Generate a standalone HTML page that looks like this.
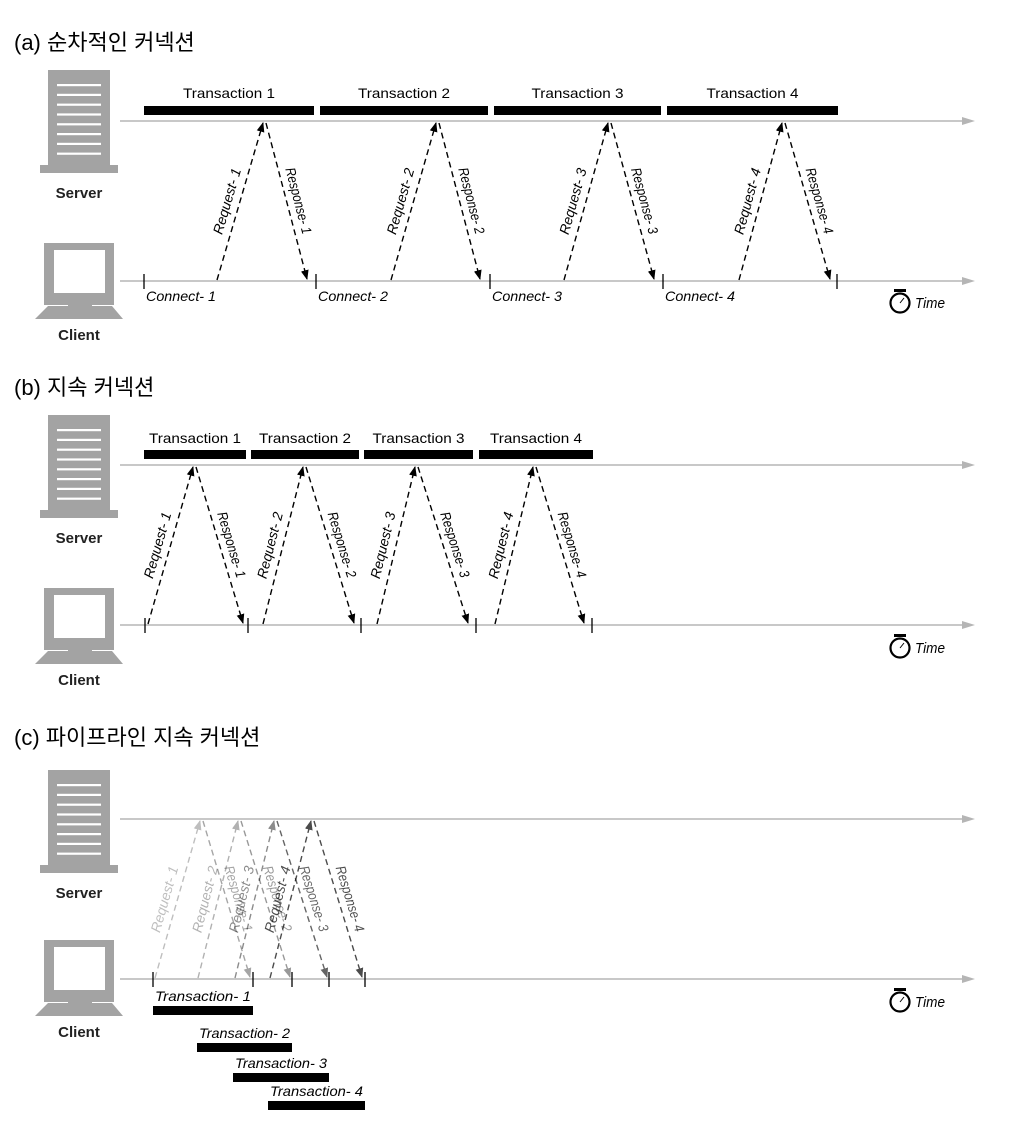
<!DOCTYPE html>
<html><head><meta charset="utf-8">
<style>
html,body{margin:0;padding:0;background:#fff;}
svg{display:block;}
.t{font-family:"Liberation Sans","DejaVu Sans",sans-serif;}
.ttl{font-family:"Liberation Sans","Noto Sans CJK KR",sans-serif;font-size:22px;fill:#000;}
.lbl{font-family:"Liberation Sans",sans-serif;font-size:14px;fill:#000;}
.it{font-style:italic;}
</style></head>
<body>
<svg id="chart" width="1014" height="1146" viewBox="0 0 1014 1146" xmlns="http://www.w3.org/2000/svg">
<defs>
<marker id="ahk" viewBox="0 0 10 10" refX="9" refY="5" markerWidth="7" markerHeight="7" orient="auto"><path d="M0,1 L10,5 L0,9 z" fill="#000"/></marker>
</defs>
<g id="root"></g>
</svg>
<script>
// Section (a): sequential connections
const aTicks = [144, 316, 490, 663, 837];
const aReqStart = [217, 391, 564, 739];
const aPeak = [263, 436, 608, 782];
const aRespEnd = [307, 480, 654, 830];
const aBarStart = [144, 320, 494, 667];
const aBarEnd = [314, 488, 661, 838];
const aConnect = ["Connect- 1", "Connect- 2", "Connect- 3", "Connect- 4"];
// Section (b): persistent connection
const bTicks = [145, 248, 361, 476, 592];
const bReqStart = [148, 263, 377, 495];
const bPeak = [193, 303, 415, 533];
const bRespEnd = [243, 354, 468, 584];
const bBarStart = [144, 251, 364, 479];
const bBarEnd = [246, 359, 473, 593];
// Section (c): pipelined persistent connection
const cTicks = [153, 253, 292, 329, 365];
const cReqStart = [155, 198, 235, 270];
const cPeak = [200, 238, 274, 311];
const cRespEnd = [250, 290, 327, 362];
const cReqOpacity = [0.25, 0.3, 0.45, 0.7];
const cRespOpacity = [0.35, 0.4, 0.6, 0.7];
const cBarStart = [153, 197, 233, 268];
const cBarEnd = [253, 292, 329, 365];
const txNames = ["Transaction 1", "Transaction 2", "Transaction 3", "Transaction 4"];
const cTxNames = ["Transaction- 1", "Transaction- 2", "Transaction- 3", "Transaction- 4"];

const NS = "http://www.w3.org/2000/svg";
const root = document.getElementById('root');
function mk(tag, attrs, parent, text){
  const e = document.createElementNS(NS, tag);
  for (const k in attrs) e.setAttribute(k, attrs[k]);
  if (text !== undefined) e.textContent = text;
  (parent || root).appendChild(e);
  return e;
}

function server(y0, g){
  const s = mk('g', {}, g);
  
  
  mk('rect', {x:48, y:y0, width:62, height:95, fill:'#a3a3a3'}, s);
  mk('rect', {x:40, y:y0+95, width:78, height:8, fill:'#a3a3a3'}, s);
  for (let i=0;i<8;i++) mk('rect', {x:57, y:y0+14+i*9.8, width:44, height:2.2, fill:'#fff'}, s);
  const t = mk('text', {x:79, y:y0+128, 'text-anchor':'middle', class:'t', 'font-size':15, 'font-weight':'bold', fill:'#222'}, g, 'Server');
  
  
}
function client(y0, g){
  const c = mk('g', {}, g);
  
  
  mk('rect', {x:44, y:y0, width:70, height:62, fill:'#a3a3a3'}, c);
  mk('rect', {x:54, y:y0+7, width:51, height:43, fill:'#fff'}, c);
  mk('rect', {x:68, y:y0+60, width:24, height:5, fill:'#a3a3a3'}, c);
  mk('path', {d:`M48 ${y0+63} L112 ${y0+63} L123 ${y0+76} L35 ${y0+76} Z`, fill:'#a3a3a3'}, c);
  const t = mk('text', {x:79, y:y0+97, 'text-anchor':'middle', class:'t', 'font-size':15, 'font-weight':'bold', fill:'#222'}, g, 'Client');
  
  
}
function timeline(y, g, name){
  const l = mk('line', {x1:120, y1:y, x2:968, y2:y, stroke:'#b5b5b5', 'stroke-width':1.5}, g);
  
  
  mk('path', {d:`M962 ${y-4} L975 ${y} L962 ${y+4} Z`, fill:'#b5b5b5'}, g);
}
function stopwatch(y, g){
  const s = mk('g', {}, g);
  
  
  mk('circle', {cx:900, cy:y+1, r:9.5, fill:'none', stroke:'#000', 'stroke-width':2.2}, s);
  mk('rect', {x:894, y:y-13, width:12, height:3, fill:'#000'}, s);
  mk('line', {x1:900, y1:y+1, x2:904, y2:y-4, stroke:'#000', 'stroke-width':1}, s);
  const t = mk('text', {x:915, y:y+6, class:'t it', 'font-size':15, fill:'#000', 'textLength':30, 'lengthAdjust':'spacingAndGlyphs'}, g, 'Time');
  
  
}
function ticks(arr, y, g){
  arr.forEach((x)=>{
    const t = mk('line', {x1:x, y1:y-7, x2:x, y2:y+8, stroke:'#000', 'stroke-width':1.3}, g);
    
    
  });
}
function arrowLbl(x1,y1,x2,y2,label,op,g,name){
  const gg = mk('g', {opacity:op}, g);
  
  
  mk('line', {x1:x1, y1:y1, x2:x2, y2:y2, stroke:'#000', 'stroke-width':1.4, 'stroke-dasharray':'6,4', 'marker-end':'url(#ahk)'}, gg);
  const mx=(x1+x2)/2, my=(y1+y2)/2;
  let ang = Math.atan2(y2-y1, x2-x1)*180/Math.PI;
  if (ang > 90) ang -= 180; if (ang < -90) ang += 180;
  const up = y2 < y1;
  const ox = up ? mx-12 : mx+11;
  mk('text', {x:ox, y:my, transform:`rotate(${ang} ${ox} ${my})`, 'text-anchor':'middle', class:'t it', 'font-size':14, fill:'#000', 'dominant-baseline':'middle', textLength: 68, lengthAdjust:'spacingAndGlyphs'}, gg, label);
}
function bar(x1,x2,y,h,g,name){
  const b = mk('rect', {x:x1, y:y, width:x2-x1, height:h, fill:'#000'}, g);
  
  
}
function title(y, text, name){
  const t = mk('text', {x:14, y:y, class:'ttl'}, root, text);
  
  
}

// ---- (a)
title(50, '(a) 순차적인 커넥션', 'title-sequential');
const ga = mk('g', {});  
server(70, ga); client(243, ga);
timeline(121, ga, 'server-timeline'); timeline(281, ga, 'client-timeline');
ticks(aTicks, 281, ga);
stopwatch(302, ga);
for (let i=0;i<4;i++){
  bar(aBarStart[i], aBarEnd[i], 106, 9, ga, 'transaction-bar-'+(i+1));
  const tl = mk('text', {x:(aBarStart[i]+aBarEnd[i])/2, y:98, 'text-anchor':'middle', class:'lbl', 'font-size':14, textLength:92, lengthAdjust:'spacingAndGlyphs'}, ga, txNames[i]);
   
  arrowLbl(aReqStart[i], 280, aPeak[i], 123, 'Request- '+(i+1), 1, ga, 'request-arrow-'+(i+1));
  arrowLbl(aPeak[i]+3, 123, aRespEnd[i], 279, 'Response- '+(i+1), 1, ga, 'response-arrow-'+(i+1));
  const cl = mk('text', {x:aTicks[i]+2, y:301, class:'t it', 'font-size':14, fill:'#000', textLength:70, lengthAdjust:'spacingAndGlyphs'}, ga, aConnect[i]);
   
}

// ---- (b)
title(395, '(b) 지속 커넥션', 'title-persistent');
const gb = mk('g', {});  
server(415, gb); client(588, gb);
timeline(465, gb, 'server-timeline'); timeline(625, gb, 'client-timeline');
ticks(bTicks, 625, gb);
stopwatch(647, gb);
for (let i=0;i<4;i++){
  bar(bBarStart[i], bBarEnd[i], 450, 9, gb, 'transaction-bar-'+(i+1));
  const tl = mk('text', {x:(bBarStart[i]+bBarEnd[i])/2, y:443, 'text-anchor':'middle', class:'lbl', textLength:92, lengthAdjust:'spacingAndGlyphs'}, gb, txNames[i]);
   
  arrowLbl(bReqStart[i], 624, bPeak[i], 467, 'Request- '+(i+1), 1, gb, 'request-arrow-'+(i+1));
  arrowLbl(bPeak[i]+3, 467, bRespEnd[i], 623, 'Response- '+(i+1), 1, gb, 'response-arrow-'+(i+1));
}

// ---- (c)
title(745, '(c) 파이프라인 지속 커넥션', 'title-pipelined');
const gc = mk('g', {});  
server(770, gc); client(940, gc);
timeline(819, gc, 'server-timeline'); timeline(979, gc, 'client-timeline');
ticks(cTicks, 979, gc);
stopwatch(1001, gc);
const barY = [1006, 1043, 1073, 1101];
for (let i=0;i<4;i++){
  arrowLbl(cReqStart[i], 978, cPeak[i], 821, 'Request- '+(i+1), cReqOpacity[i], gc, 'request-arrow-'+(i+1));
  arrowLbl(cPeak[i]+3, 821, cRespEnd[i], 977, 'Response- '+(i+1), cRespOpacity[i], gc, 'response-arrow-'+(i+1));
}
for (let i=0;i<4;i++){
  bar(cBarStart[i], cBarEnd[i], barY[i], 9, gc, 'transaction-bar-'+(i+1));
  const tl = mk('text', {x:cBarStart[i]+2, y:barY[i]-5, class:'t it', 'font-size':14, fill:'#000', textLength:cBarEnd[i]-cBarStart[i]-4, lengthAdjust:'spacingAndGlyphs'}, gc, cTxNames[i]);
   
}
</script>
</body></html>
